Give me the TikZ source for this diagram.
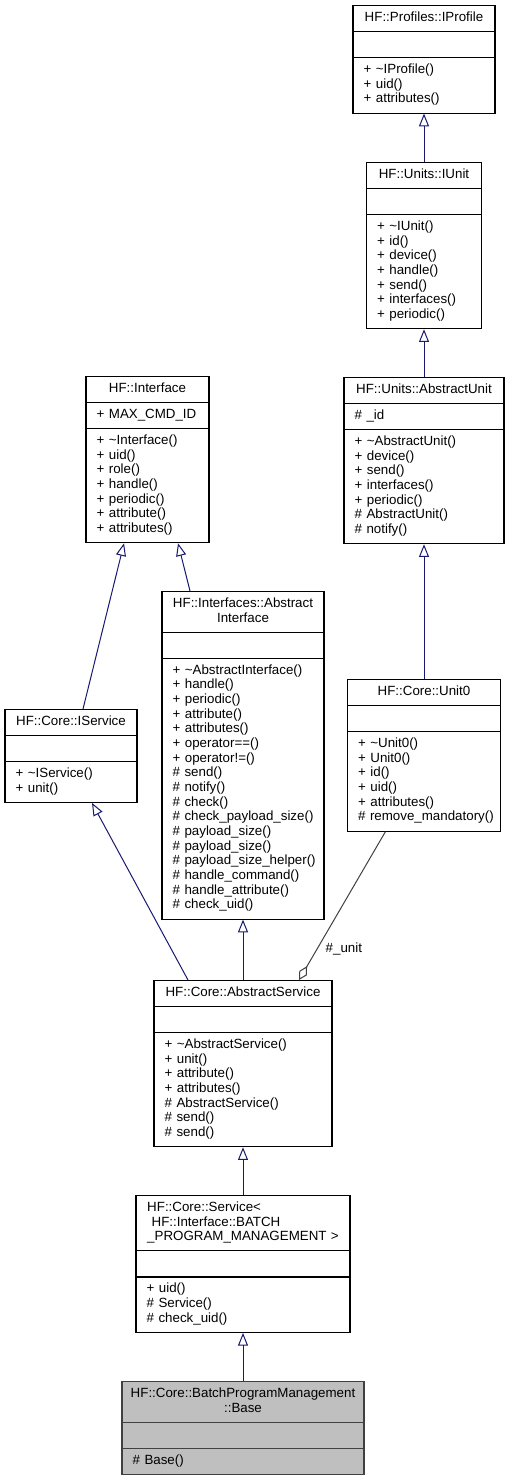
\documentclass[tikz,border=0pt]{standalone}
\usepackage{fontspec}
\setmainfont{Liberation Sans}
\usetikzlibrary{shapes.multipart,arrows.meta}
\definecolor{edgeblue}{HTML}{191970}
\definecolor{edgegrey}{HTML}{404040}
\definecolor{basefill}{HTML}{BFBFBF}
\newcommand{\clsname}[2][c]{\noindent\makebox[\linewidth][c]{\begin{tabular}{@{}#1@{}}#2\end{tabular}}}
\newcommand{\clsrows}[1]{\noindent\begin{tabular}{@{}l@{}}#1\end{tabular}}
\tikzset{
  umlclass/.style={rectangle split, rectangle split parts=3, draw=black, fill=white,
    line width=0.8pt, inner xsep=8pt, inner ysep=3.875pt, anchor=north,
    font=\fontsize{10}{11}\selectfont},
  inherit/.style={draw=edgeblue, line width=0.75pt, -{Triangle[open,length=9.5pt,width=7.5pt]}},
  aggregate/.style={draw=edgegrey, line width=0.75pt, -{Diamond[open,length=12pt,width=6.5pt]}}
}
\begin{document}
\begin{tikzpicture}[x=0.75pt,y=-0.75pt]
        \useasboundingbox (0,0) rectangle (510,1477);
        % right column
        \node[umlclass, text width=90.5pt] (iprofile) at (424,5) {\clsname{HF::Profiles::IProfile}
            \nodepart{two}\clsrows{\mbox{}}
            \nodepart{three}\clsrows{+ \textasciitilde IProfile()\\+ uid()\\+ attributes()}};
        \node[umlclass, text width=70.25pt] (iunit) at (424,162) {\clsname{HF::Units::IUnit}
            \nodepart{two}\clsrows{\mbox{}}
            \nodepart{three}\clsrows{+ \textasciitilde IUnit()\\+ id()\\+ device()\\+ handle()\\+ send()\\+ interfaces()\\+ periodic()}};
        \node[umlclass, text width=104pt] (absunit) at (424,377) {\clsname{HF::Units::AbstractUnit}
            \nodepart{two}\clsrows{\# \_id}
            \nodepart{three}\clsrows{+ \textasciitilde AbstractUnit()\\+ device()\\+ send()\\+ interfaces()\\+ periodic()\\\# AbstractUnit()\\\# notify()}};
        \node[umlclass, text width=98.75pt] (unit0) at (424,679) {\clsname{HF::Core::Unit0}
            \nodepart{two}\clsrows{\mbox{}}
            \nodepart{three}\clsrows{+ \textasciitilde Unit0()\\+ Unit0()\\+ id()\\+ uid()\\+ attributes()\\\# remove\_mandatory()}};
        % left column
        \node[umlclass, text width=76.25pt] (interface) at (147.5,376) {\clsname{HF::Interface}
            \nodepart{two}\clsrows{+ MAX\_CMD\_ID}
            \nodepart{three}\clsrows{+ \textasciitilde Interface()\\+ uid()\\+ role()\\+ handle()\\+ periodic()\\+ attribute()\\+ attributes()}};
        \node[umlclass, text width=83pt] (iservice) at (71,709) {\clsname{HF::Core::IService}
            \nodepart{two}\clsrows{\mbox{}}
            \nodepart{three}\clsrows{+ \textasciitilde IService()\\+ unit()}};
        \node[umlclass, text width=105.5pt] (absinterface) at (243,591) {\clsname{HF::Interfaces::Abstract\\Interface}
            \nodepart{two}\clsrows{\mbox{}}
            \nodepart{three}\clsrows{+ \textasciitilde AbstractInterface()\\+ handle()\\+ periodic()\\+ attribute()\\+ attributes()\\+ operator==()\\+ operator!=()\\\# send()\\\# notify()\\\# check()\\\# check\_payload\_size()\\\# payload\_size()\\\# payload\_size()\\\# payload\_size\_helper()\\\# handle\_command()\\\# handle\_attribute()\\\# check\_uid()}};
        % middle column
        \node[umlclass, text width=117.5pt] (absservice) at (243,980) {\clsname{HF::Core::AbstractService}
            \nodepart{two}\clsrows{\mbox{}}
            \nodepart{three}\clsrows{+ \textasciitilde AbstractService()\\+ unit()\\+ attribute()\\+ attributes()\\\# AbstractService()\\\# send()\\\# send()}};
        \node[umlclass, text width=144.5pt] (service) at (243,1195) {\clsname[l]{HF::Core::Service<\\\ HF::Interface::BATCH\\\_PROGRAM\_MANAGEMENT >}
            \nodepart{two}\clsrows{\mbox{}}
            \nodepart{three}\clsrows{+ uid()\\\# Service()\\\# check\_uid()}};
        \node[umlclass, text width=165.5pt, fill=basefill, draw=edgegrey] (base) at (243,1381) {\clsname{HF::Core::BatchProgramManagement\\::Base}
            \nodepart{two}\clsrows{\mbox{}}
            \nodepart{three}\clsrows{\# Base()}};
        % inheritance
        \draw[inherit] (iunit.north) -- (iprofile.south);
        \draw[inherit] (absunit.north) -- (iunit.south);
        \draw[inherit] (unit0.north) -- (absunit.south);
        \draw[inherit] ([xshift=9pt]iservice.north) -- ([xshift=-17.6pt]interface.south);
        \draw[inherit] ([xshift=-39.75pt]absinterface.north) -- ([xshift=22.9pt]interface.south);
        \draw[inherit] ([xshift=-41.25pt]absservice.north) -- ([xshift=15.75pt]iservice.south);
        \draw[inherit] (absservice.north) -- (absinterface.south);
        \draw[inherit] (service.north) -- (absservice.south);
        \draw[inherit] (base.north) -- (service.south);
        % aggregation
        \draw[aggregate] ([xshift=-28.9pt]unit0.south) -- node[pos=0.79, right=2.7pt, font=\fontsize{10}{11}\selectfont] {\#\_unit} ([xshift=42pt]absservice.north);
    \end{tikzpicture}
\end{document}
